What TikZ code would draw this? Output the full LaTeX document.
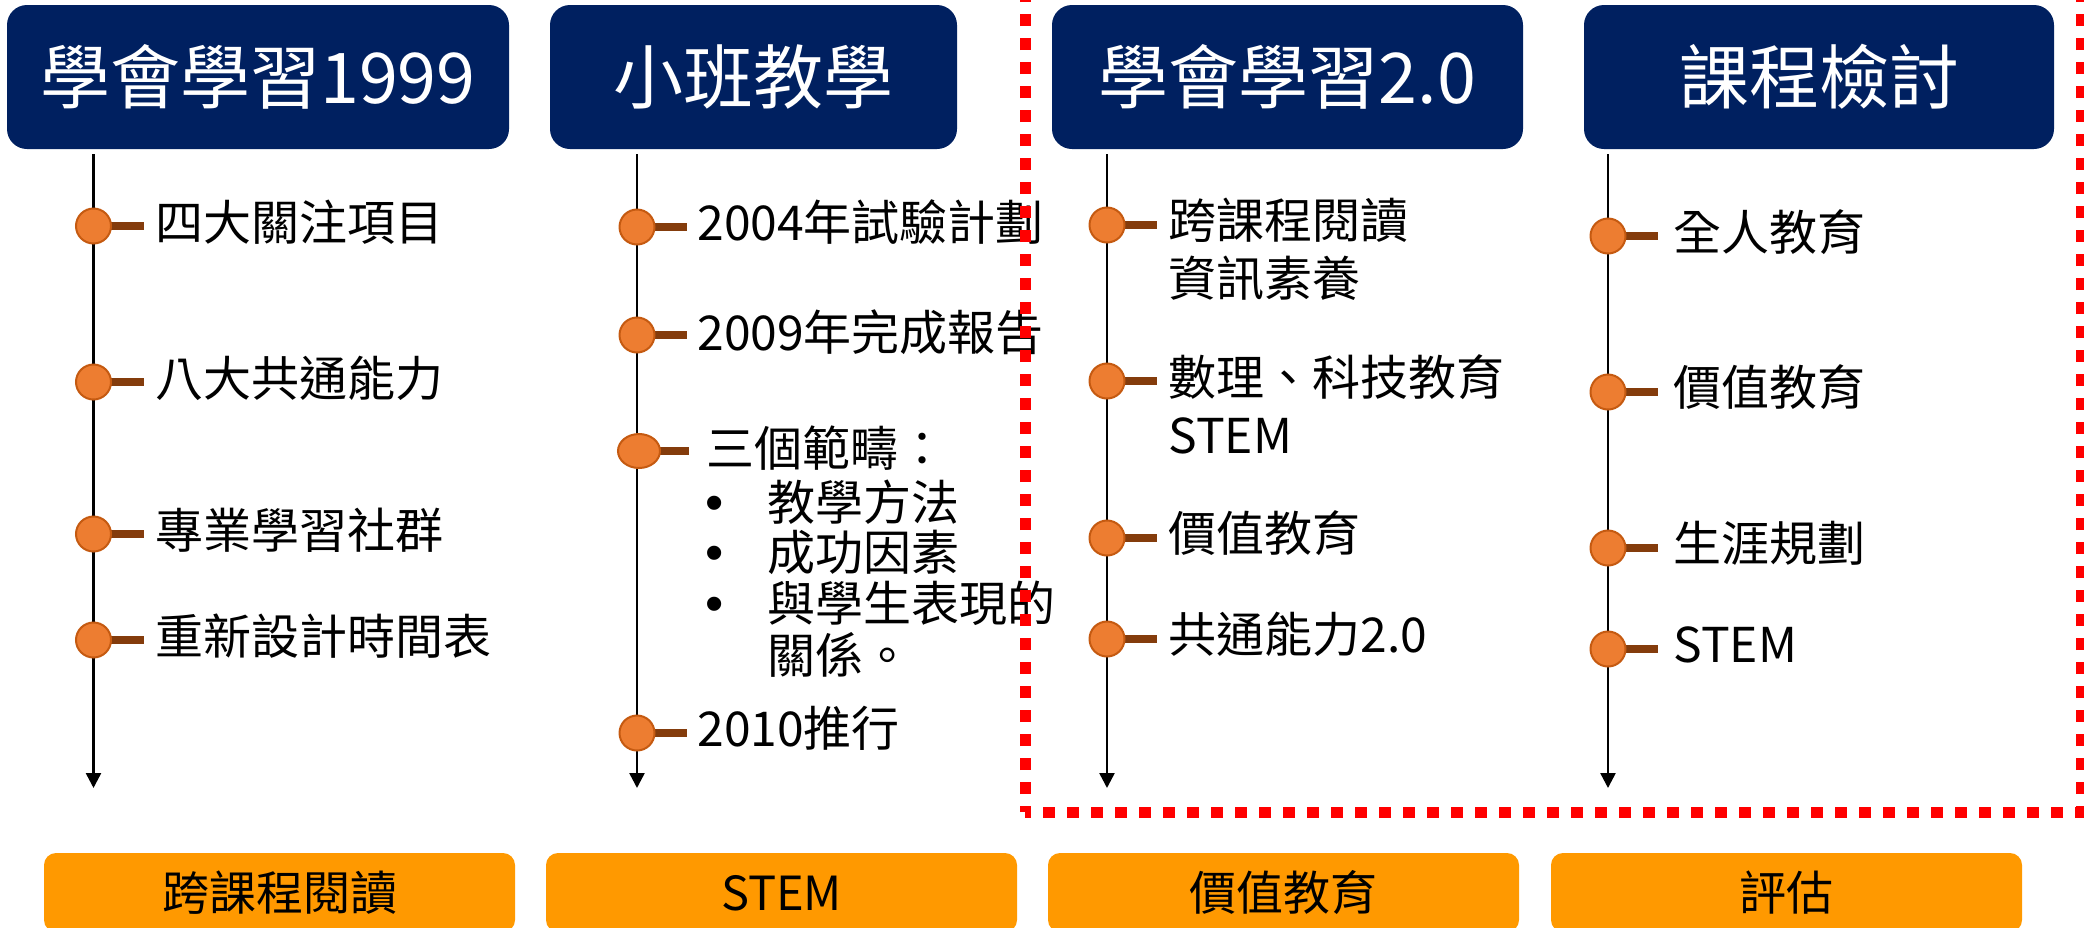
\documentclass[tikz,border=0pt]{standalone}
\usepackage{fontspec}
\setmainfont{Noto Sans CJK TC}
\newfontfamily\bulfont{Liberation Sans}
\usetikzlibrary{arrows.meta,shapes.geometric}
\definecolor{navy}{HTML}{002060}
\definecolor{orbox}{HTML}{FF9900}
\definecolor{dotfill}{HTML}{ED7D31}
\definecolor{dotline}{HTML}{C55A11}
\definecolor{barbrown}{HTML}{843C0C}
\newcommand\mkdot[4][dotc]{%
  \coordinate (#2c) at (#3,#4);
  \coordinate (#2b) at ({#3+50},#4);
  \draw[bar] (#2c) -- (#2b);
  \node[#1] (#2) at (#2c) {};}
\newcommand\bulitem{{\bulfont\fontsize{26}{28}\selectfont •}\hspace{22pt}}
\begin{document}
\begin{tikzpicture}[x=0.5pt,y=-0.5pt,
  head/.style={fill=navy, rounded corners=10pt, text=white, inner sep=0,
    font=\fontsize{35}{40}\selectfont, text height=29pt, text depth=2.5pt,
    minimum height=72pt},
  foot/.style={fill=orbox, rounded corners=6pt, text=black, inner sep=0,
    font=\fontsize{23.5}{28}\selectfont, text height=19.5pt, text depth=1.6pt,
    minimum width=235.5pt, minimum height=39.5pt},
  item/.style={anchor=west, inner sep=0, font=\fontsize{24}{28}\selectfont,
    text height=19.9pt, text depth=1.7pt},
  axis/.style={line width=1.25pt, -{Triangle[length=7.5pt,width=7.5pt]}},
  dotc/.style={circle, fill=dotfill, draw=dotline, line width=1pt,
    minimum size=17.5pt, inner sep=0},
  dotw/.style={ellipse, fill=dotfill, draw=dotline, line width=1pt,
    minimum width=21pt, minimum height=17pt, inner sep=0},
  bar/.style={draw=barbrown, line width=4pt},
  redbox/.style={draw=red, line width=5.5pt, dash pattern=on 6pt off 6pt, dash phase=3pt}
]
\useasboundingbox (0,0) rectangle (2084,927);
\clip (0,0) rectangle (2084,927);

% axes
\coordinate (a1s) at (93.5,154);  \coordinate (a1e) at (93.5,788);
\coordinate (a2s) at (637,154);   \coordinate (a2e) at (637,788);
\coordinate (a3s) at (1107,154);  \coordinate (a3e) at (1107,788);
\coordinate (a4s) at (1608,154);  \coordinate (a4e) at (1608,788);
\draw[axis] (a1s) -- (a1e);
\draw[axis] (a2s) -- (a2e);
\draw[axis] (a3s) -- (a3e);
\draw[axis] (a4s) -- (a4e);

% markers
\mkdot{d11}{93.5}{226} \mkdot{d12}{93.5}{382} \mkdot{d13}{93.5}{534} \mkdot{d14}{93.5}{640}
\mkdot{d21}{637}{227} \mkdot{d22}{637}{335} \mkdot[dotw]{d23}{639}{451} \mkdot{d24}{637}{733}
\mkdot{d31}{1107}{225} \mkdot{d32}{1107}{381} \mkdot{d33}{1107}{538} \mkdot{d34}{1107}{639}
\mkdot{d41}{1608}{236} \mkdot{d42}{1608}{392} \mkdot{d43}{1608}{548} \mkdot{d44}{1608}{649}

% column 1 texts
\node[item] (t11) at (155,222) {四大關注項目};
\node[item] (t12) at (155,378) {八大共通能力};
\node[item] (t13) at (155,530) {專業學習社群};
\node[item] (t14) at (155,636) {重新設計時間表};

% column 2 texts
\node[item] (t21) at (697,222) {2004年試驗計劃};
\node[item] (t22) at (697,332) {2009年完成報告};
\node[item] (t23) at (706,448) {三個範疇：};
\node[item] (t23a) at (705,502) {\bulitem 教學方法};
\node[item] (t23b) at (705,552) {\bulitem 成功因素};
\node[item] (t23c) at (705,603) {\bulitem 與學生表現的};
\node[item] (t23d) at (767,655) {關係。};
\node[item] (t24) at (697,728) {2010推行};

% column 3 texts
\node[item] (t31) at (1168,220) {跨課程閱讀};
\node[item] (t31b) at (1168,278) {資訊素養};
\node[item] (t32) at (1168,377) {數理、科技教育};
\node[item] (t32b) at (1168,435) {STEM};
\node[item] (t33) at (1168,533) {價值教育};
\node[item] (t34) at (1168,634) {共通能力2.0};

% column 4 texts
\node[item] (t41) at (1673,232) {全人教育};
\node[item] (t42) at (1673,387) {價值教育};
\node[item] (t43) at (1673,543) {生涯規劃};
\node[item] (t44) at (1673,644) {STEM};

% headers
\node[head, minimum width=251pt] (h1) at (258,77) {學會學習1999};
\node[head, minimum width=203.5pt] (h2) at (753.5,77) {小班教學};
\node[head, minimum width=235.5pt] (h3) at (1287.5,77) {學會學習2.0};
\node[head, minimum width=235pt] (h4) at (1819,77) {課程檢討};

% red dashed frame
\coordinate (rc) at (1025,812);
\coordinate (rt) at (1025,-40);
\coordinate (rr) at (2081,812);
\coordinate (rrt) at (2081,-40);
\draw[redbox] (rc) -- (rt);
\draw[redbox] (rc) -- (rr) -- (rrt);

% footers
\node[foot] (f1) at (279.5,892.5) {跨課程閱讀};
\node[foot] (f2) at (781.5,892.5) {STEM};
\node[foot] (f3) at (1283.5,892.5) {價值教育};
\node[foot] (f4) at (1786.5,892.5) {評估};
\end{tikzpicture}
\end{document}
